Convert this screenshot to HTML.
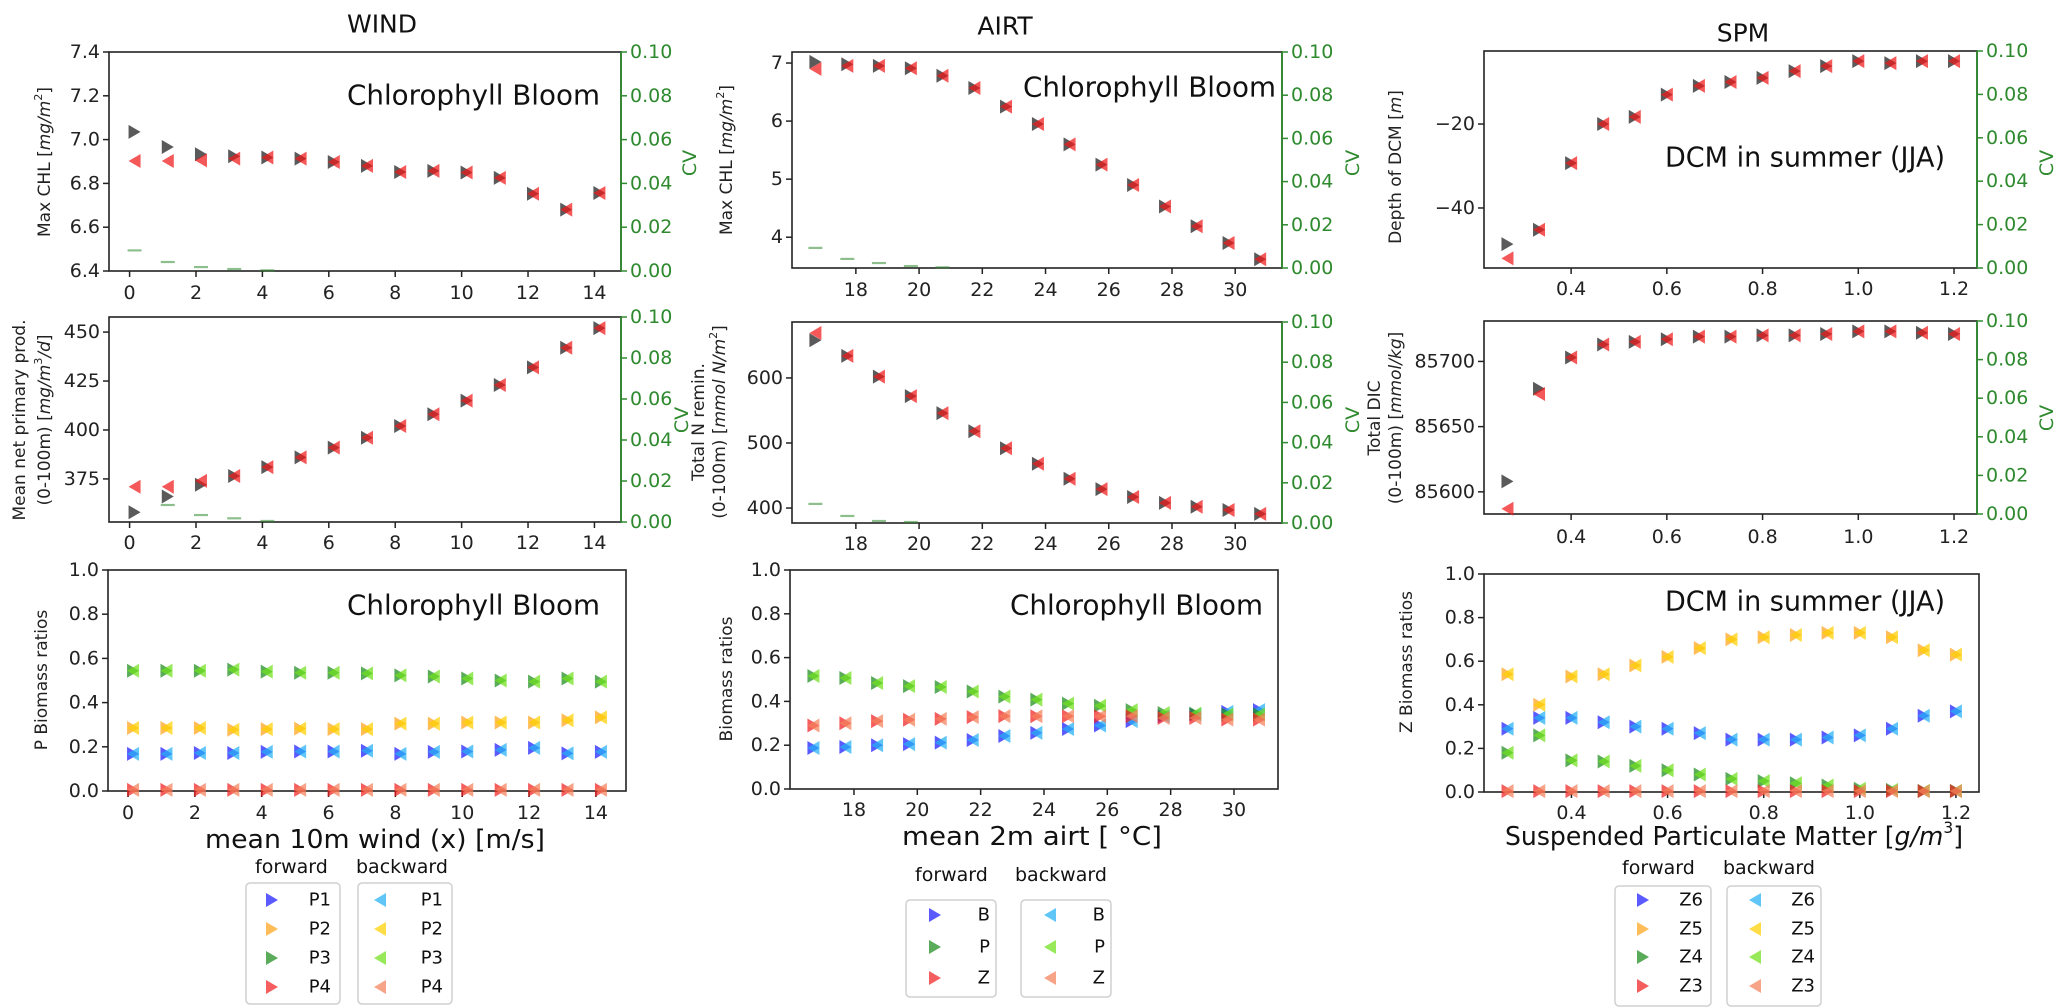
<!DOCTYPE html>
<html><head><meta charset="utf-8"><style>
html,body{margin:0;padding:0;background:#fff;}
svg{display:block;font-family:"DejaVu Sans","Liberation Sans",sans-serif;}
</style></head><body>
<svg id="fig" width="2067" height="1008" viewBox="0 0 2067 1008" xmlns="http://www.w3.org/2000/svg"></svg>
<script>
// ---------- DATA ----------
const windX = [0.15,1.15,2.15,3.15,4.15,5.15,6.15,7.15,8.15,9.15,10.15,11.15,12.15,13.15,14.15];
const windChlF = [7.035,6.966,6.933,6.924,6.918,6.913,6.898,6.88,6.852,6.857,6.85,6.825,6.753,6.68,6.756];
const windChlB = [6.902,6.902,6.905,6.913,6.918,6.913,6.898,6.88,6.852,6.857,6.85,6.825,6.753,6.68,6.756];
const windChlCV = [0.0094,0.0041,0.0018,0.0009,0.0003,0,0,0,0,0,0,0,0,0,0];
const windNppF = [358,366,372,376.5,381,386,391,396,402,408,415,423,432,442,452];
const windNppB = [371,371,374,376.5,381,386,391,396,402,408,415,423,432,442,452];
const windNppCV = [0,0.0083,0.0034,0.0018,0.0005,0,0,0,0,0,0,0,0,0,0];
const windP1 = [0.168,0.168,0.172,0.172,0.177,0.179,0.179,0.182,0.168,0.177,0.179,0.186,0.195,0.17,0.177];
const windP2 = [0.285,0.285,0.285,0.277,0.28,0.282,0.28,0.28,0.305,0.305,0.31,0.31,0.31,0.32,0.333];
const windP3 = [0.544,0.544,0.544,0.549,0.54,0.535,0.535,0.532,0.523,0.518,0.509,0.5,0.495,0.509,0.495];
const windP4 = [0.005,0.005,0.005,0.005,0.005,0.005,0.005,0.005,0.005,0.005,0.005,0.005,0.005,0.005,0.005];

const airtX = [16.72,17.73,18.73,19.74,20.74,21.75,22.75,23.76,24.76,25.77,26.77,27.78,28.78,29.79,30.79];
const airtChlF = [7.02,6.98,6.95,6.91,6.78,6.57,6.25,5.95,5.6,5.25,4.9,4.53,4.19,3.9,3.62];
const airtChlB = [6.9,6.95,6.95,6.91,6.78,6.57,6.25,5.95,5.6,5.25,4.9,4.53,4.19,3.9,3.62];
const airtChlCV = [0.0093,0.0042,0.0023,0.0009,0.0003,0,0,0,0,0,0,0,0,0,0];
const airtNF = [658,634,602,572,546,518,492,468,445,429,417,408,402,397,391];
const airtNB = [669,634,602,572,546,518,492,468,445,429,417,408,402,397,391];
const airtNCV = [0.0095,0.0035,0.001,0.0005,0,0,0,0,0,0,0,0,0,0,0];
const airtB = [0.187,0.192,0.2,0.205,0.212,0.224,0.242,0.256,0.274,0.29,0.31,0.332,0.34,0.352,0.36];
const airtP = [0.516,0.507,0.484,0.47,0.466,0.445,0.422,0.408,0.39,0.38,0.36,0.347,0.344,0.34,0.34];
const airtZ = [0.29,0.3,0.31,0.316,0.32,0.328,0.333,0.332,0.332,0.332,0.332,0.324,0.324,0.317,0.317];

const spmX = [0.267,0.333,0.4,0.467,0.533,0.6,0.667,0.733,0.8,0.867,0.933,1.0,1.067,1.133,1.2];
const spmDepthF = [-48.6,-45.2,-29.3,-20,-18.3,-13,-10.9,-10,-9,-7.4,-6.2,-5,-5.5,-5,-5];
const spmDepthB = [-52,-45.2,-29.3,-20,-18.3,-13,-10.9,-10,-9,-7.4,-6.2,-5,-5.5,-5,-5];
const spmDicF = [85608,85679,85703,85713,85715,85717,85719,85719,85720,85720,85721,85723,85723,85722,85721];
const spmDicB = [85587,85675,85703,85713,85715,85717,85719,85719,85720,85720,85721,85723,85723,85722,85721];
const spmZ6 = [0.29,0.34,0.34,0.32,0.3,0.29,0.27,0.24,0.24,0.24,0.25,0.26,0.29,0.35,0.37];
const spmZ5 = [0.54,0.4,0.53,0.54,0.58,0.62,0.66,0.7,0.71,0.72,0.73,0.73,0.71,0.65,0.63];
const spmZ4 = [0.18,0.26,0.145,0.14,0.12,0.1,0.08,0.06,0.05,0.04,0.03,0.015,0.01,0.005,0.005];
const spmZ3 = [0.004,0.004,0.004,0.004,0.004,0.004,0.004,0.004,0.004,0.004,0.004,0.004,0.004,0.004,0.004];

const windTicks = [0,2,4,6,8,10,12,14];
const airtTicks = [18,20,22,24,26,28,30];
const spmTicks = [0.4,0.6,0.8,1.0,1.2];
const spmTickLabels = ["0.4","0.6","0.8","1.0","1.2"];
const cvTicks = [0,0.02,0.04,0.06,0.08,0.10];
const ratioTicks = [0,0.2,0.4,0.6,0.8,1.0];

// ---------- HELPERS ----------
const NS = "http://www.w3.org/2000/svg";
const svg = document.getElementById("fig");
function el(tag, attrs, parent){
  const e = document.createElementNS(NS, tag);
  for (const k in attrs) e.setAttribute(k, attrs[k]);
  (parent||svg).appendChild(e);
  return e;
}
function txt(s, attrs, parent){ const t = el("text", attrs, parent); t.textContent = s; return t; }
function lin(d0,d1,p0,p1){ return v => p0 + (v-d0)/(d1-d0)*(p1-p0); }
const GREEN = "#2f8a2f";

function panel(name, box, xd, yd, xticks, xlabels, yticks, ylabels, xlabY, cv){
  const g = el("g", {});
  
  
  const sx = lin(xd[0], xd[1], box.l, box.r);
  const sy = lin(yd[0], yd[1], box.b, box.t);
  const frame = el("rect", {x:box.l, y:box.t, width:box.r-box.l, height:box.b-box.t, fill:"none", stroke:"#222", "stroke-width":1.6}, g);
  
  
  xticks.forEach((v,i)=>{
    const x = sx(v);
    el("line",{x1:x,x2:x,y1:box.b,y2:box.b+6,stroke:"#222","stroke-width":1.5},g);
    const t = txt(xlabels[i],{x:x,y:xlabY,"text-anchor":"middle","dominant-baseline":"central","font-size":19,fill:"#222"},g);
    
    
  });
  yticks.forEach((v,i)=>{
    const y = sy(v);
    el("line",{x1:box.l-6,x2:box.l,y1:y,y2:y,stroke:"#222","stroke-width":1.5},g);
    const t = txt(ylabels[i],{x:box.l-9,y:y,"text-anchor":"end","dominant-baseline":"central","font-size":19,fill:"#222"},g);
    
    
  });
  let scv = null;
  if (cv){
    scv = lin(0, 0.1, box.b, box.t);
    el("line",{x1:box.r,x2:box.r,y1:box.t,y2:box.b,stroke:GREEN,"stroke-width":1.8},g);
    cvTicks.forEach(v=>{
      const y = scv(v);
      el("line",{x1:box.r,x2:box.r+6,y1:y,y2:y,stroke:GREEN,"stroke-width":1.5},g);
      const t = txt(v.toFixed(2),{x:box.r+9,y:y,"dominant-baseline":"central","font-size":19,fill:GREEN},g);
      
      
    });
  }
  return {g, sx, sy, scv, box};
}
function tri(p, x, y, dir, color, name){
  const w = 6, h = 7;
  const pts = dir>0 ? [[x-w,y-h],[x+w,y],[x-w,y+h]] : [[x+w,y-h],[x-w,y],[x+w,y+h]];
  const t = el("polygon",{points:pts.map(q=>q.join(",")).join(" "),fill:color,"fill-opacity":0.72},p.g || p);
  
  
  return t;
}
function series(p, xs, ys, dir, color, name){
  xs.forEach((xv,i)=>{ tri(p, p.sx(xv), p.sy(ys[i]), dir, color, name); });
}
function cvSeries(p, xs, cvs){
  xs.forEach((xv,i)=>{
    if (cvs[i] <= 0) return;
    const x = p.sx(xv), y = p.scv(cvs[i]);
    const d = el("line",{x1:x-7,x2:x+7,y1:y,y2:y,stroke:GREEN,"stroke-opacity":0.55,"stroke-width":2.2},p.g);
    
    
  });
}
function vlabel(parts, x, y, size, color, name){
  const t = el("text",{x:0,y:0,transform:`translate(${x},${y}) rotate(-90)`,"text-anchor":"middle","dominant-baseline":"central","font-size":size,fill:color||"#222"});
  
  
  parts.forEach(pt=>{
    const s = el("tspan", pt.a || {}, t); s.textContent = pt.s;
  });
  return t;
}
function label(s, attrs, name){
  const t = txt(s, attrs);
  
  
  return t;
}
const IT = {"font-style":"italic"};
const SUP = {"baseline-shift":"super","font-size":11};

const BLACK = "#1a1a1a", RED = "#f01818";
const FWD = {blue:"#1a1aff", orange:"#ffa31a", green:"#1a8a1a", red:"#f02020"};
const BWD = {blue:"#22b0f5", orange:"#ffd000", green:"#6fe01a", red:"#f4805a"};

// ---------- TITLES ----------
label("WIND",{x:382,y:24,"text-anchor":"middle","dominant-baseline":"central","font-size":25,fill:"#111"},"column-title-wind");
label("AIRT",{x:1005,y:26,"text-anchor":"middle","dominant-baseline":"central","font-size":25,fill:"#111"},"column-title-airt");
label("SPM",{x:1743,y:33,"text-anchor":"middle","dominant-baseline":"central","font-size":25,fill:"#111"},"column-title-spm");

// ---------- COLUMN 1: WIND ----------
const w1 = panel("wind-max-chl-panel",{l:109,r:621,t:52,b:271},[-0.62,14.8],[6.4,7.4],windTicks,windTicks.map(String),[6.4,6.6,6.8,7.0,7.2,7.4],["6.4","6.6","6.8","7.0","7.2","7.4"],293,true);
cvSeries(w1, windX, windChlCV);
series(w1, windX, windChlF, 1, BLACK, "forward-marker");
series(w1, windX, windChlB, -1, RED, "backward-marker");
const w2 = panel("wind-npp-panel",{l:109,r:621,t:317,b:522},[-0.62,14.8],[353,457.7],windTicks,windTicks.map(String),[375,400,425,450],["375","400","425","450"],543,true);
cvSeries(w2, windX, windNppCV);
series(w2, windX, windNppF, 1, BLACK, "forward-marker");
series(w2, windX, windNppB, -1, RED, "backward-marker");
const w3 = panel("wind-biomass-panel",{l:108,r:626,t:570,b:791},[-0.6,14.9],[0,1],windTicks,windTicks.map(String),ratioTicks,["0.0","0.2","0.4","0.6","0.8","1.0"],813,false);
[[windP1,"blue"],[windP2,"orange"],[windP3,"green"],[windP4,"red"]].forEach(([arr,c])=>{
  series(w3, windX, arr, 1, FWD[c], "forward-marker");
  series(w3, windX, arr, -1, BWD[c], "backward-marker");
});
label("Chlorophyll Bloom",{x:347,y:95,"dominant-baseline":"central","font-size":28,fill:"#111",textLength:253,lengthAdjust:"spacingAndGlyphs"},"annotation-chlorophyll-bloom");
label("Chlorophyll Bloom",{x:347,y:605,"dominant-baseline":"central","font-size":28,fill:"#111",textLength:253,lengthAdjust:"spacingAndGlyphs"},"annotation-chlorophyll-bloom");
vlabel([{s:"Max CHL ["},{s:"mg/m",a:IT},{s:"2",a:SUP},{s:"]"}],45,162,17,"#222","y-axis-title");
vlabel([{s:"Mean net primary prod."}],20,420,17,"#222","y-axis-title");
vlabel([{s:"(0-100m) ["},{s:"mg/m",a:IT},{s:"3",a:SUP},{s:"/d",a:IT},{s:"]"}],45,420,17,"#222","y-axis-title");
vlabel([{s:"P Biomass ratios"}],42,680,17,"#222","y-axis-title");
vlabel([{s:"CV"}],690,163,19,GREEN,"cv-axis-title");
label("mean 10m wind (x) [m/s]",{x:205,y:840,"dominant-baseline":"central","font-size":26,fill:"#111",textLength:340,lengthAdjust:"spacingAndGlyphs"},"x-axis-title");

// ---------- COLUMN 2: AIRT ----------
const a1 = panel("airt-max-chl-panel",{l:792,r:1282,t:52,b:268},[15.98,31.48],[3.47,7.19],airtTicks,airtTicks.map(String),[4,5,6,7],["4","5","6","7"],290,true);
cvSeries(a1, airtX, airtChlCV);
series(a1, airtX, airtChlF, 1, BLACK, "forward-marker");
series(a1, airtX, airtChlB, -1, RED, "backward-marker");
const a2 = panel("airt-n-remin-panel",{l:792,r:1282,t:322,b:523},[15.98,31.48],[377,686],airtTicks,airtTicks.map(String),[400,500,600],["400","500","600"],544,true);
cvSeries(a2, airtX, airtNCV);
series(a2, airtX, airtNF, 1, BLACK, "forward-marker");
series(a2, airtX, airtNB, -1, RED, "backward-marker");
const a3 = panel("airt-biomass-panel",{l:790,r:1278,t:570,b:789},[15.98,31.39],[0,1],airtTicks,airtTicks.map(String),ratioTicks,["0.0","0.2","0.4","0.6","0.8","1.0"],810,false);
[[airtB,"blue"],[airtP,"green"],[airtZ,"red"]].forEach(([arr,c])=>{
  series(a3, airtX, arr, 1, FWD[c], "forward-marker");
  series(a3, airtX, arr, -1, BWD[c], "backward-marker");
});
label("Chlorophyll Bloom",{x:1023,y:87,"dominant-baseline":"central","font-size":28,fill:"#111",textLength:253,lengthAdjust:"spacingAndGlyphs"},"annotation-chlorophyll-bloom");
label("Chlorophyll Bloom",{x:1010,y:605,"dominant-baseline":"central","font-size":28,fill:"#111",textLength:253,lengthAdjust:"spacingAndGlyphs"},"annotation-chlorophyll-bloom");
vlabel([{s:"Max CHL ["},{s:"mg/m",a:IT},{s:"2",a:SUP},{s:"]"}],727,160,17,"#222","y-axis-title");
vlabel([{s:"Total N remin."}],699,422,17,"#222","y-axis-title");
vlabel([{s:"(0-100m) ["},{s:"mmol N/m",a:IT},{s:"2",a:SUP},{s:"]"}],720,422,17,"#222","y-axis-title");
vlabel([{s:"Biomass ratios"}],727,679,17,"#222","y-axis-title");
vlabel([{s:"CV"}],1353,163,19,GREEN,"cv-axis-title");
vlabel([{s:"CV"}],682,420,19,GREEN,"cv-axis-title");
label("mean 2m airt [ °C]",{x:902,y:837,"dominant-baseline":"central","font-size":26,fill:"#111",textLength:260,lengthAdjust:"spacingAndGlyphs"},"x-axis-title");

// ---------- COLUMN 3: SPM ----------
const s1 = panel("spm-dcm-depth-panel",{l:1484,r:1977,t:51,b:268},[0.218,1.248],[-54.3,-2.6],spmTicks,spmTickLabels,[-40,-20],["−40","−20"],289,true);
series(s1, spmX, spmDepthF, 1, BLACK, "forward-marker");
series(s1, spmX, spmDepthB, -1, RED, "backward-marker");
const s2 = panel("spm-dic-panel",{l:1484,r:1977,t:321,b:514},[0.218,1.248],[85583,85731],spmTicks,spmTickLabels,[85600,85650,85700],["85600","85650","85700"],537,true);
series(s2, spmX, spmDicF, 1, BLACK, "forward-marker");
series(s2, spmX, spmDicB, -1, RED, "backward-marker");
const s3 = panel("spm-biomass-panel",{l:1484,r:1979,t:574,b:792},[0.218,1.248],[0,1],spmTicks,spmTickLabels,ratioTicks,["0.0","0.2","0.4","0.6","0.8","1.0"],813,false);
[[spmZ6,"blue"],[spmZ5,"orange"],[spmZ4,"green"],[spmZ3,"red"]].forEach(([arr,c])=>{
  series(s3, spmX, arr, 1, FWD[c], "forward-marker");
  series(s3, spmX, arr, -1, BWD[c], "backward-marker");
});
label("DCM in summer (JJA)",{x:1665,y:157,"dominant-baseline":"central","font-size":28,fill:"#111",textLength:280,lengthAdjust:"spacingAndGlyphs"},"annotation-dcm-summer");
label("DCM in summer (JJA)",{x:1665,y:601,"dominant-baseline":"central","font-size":28,fill:"#111",textLength:280,lengthAdjust:"spacingAndGlyphs"},"annotation-dcm-summer");
vlabel([{s:"Depth of DCM ["},{s:"m",a:IT},{s:"]"}],1396,167,17,"#222","y-axis-title");
vlabel([{s:"Total DIC"}],1375,418,17,"#222","y-axis-title");
vlabel([{s:"(0-100m) ["},{s:"mmol/kg",a:IT},{s:"]"}],1396,418,17,"#222","y-axis-title");
vlabel([{s:"Z Biomass ratios"}],1407,662,17,"#222","y-axis-title");
vlabel([{s:"CV"}],1353,420,19,GREEN,"cv-axis-title");
vlabel([{s:"CV"}],2047,163,19,GREEN,"cv-axis-title");
vlabel([{s:"CV"}],2047,418,19,GREEN,"cv-axis-title");
(function(){
  const t = el("text",{x:1505,y:837,"dominant-baseline":"central","font-size":26,fill:"#111",textLength:458,lengthAdjust:"spacingAndGlyphs"});
  
  
  const a = el("tspan",{},t); a.textContent = "Suspended Particulate Matter [";
  const b = el("tspan",IT,t); b.textContent = "g/m";
  const c = el("tspan",{"baseline-shift":"super","font-size":16},t); c.textContent = "3";
  const d = el("tspan",{},t); d.textContent = "]";
})();

// ---------- LEGENDS ----------
function legend(name, hdr, boxF, boxB, rows, mxF, mxB, lxF, lxB, names, colors){
  const g = el("g",{});
  
  
  const h1 = txt("forward",{x:hdr.f,y:hdr.y,"dominant-baseline":"central","font-size":19,fill:"#111"},g);
  
  
  const h2 = txt("backward",{x:hdr.b,y:hdr.y,"dominant-baseline":"central","font-size":19,fill:"#111"},g);
  
  
  [boxF, boxB].forEach(bx=>{
    const r = el("rect",{x:bx.l,y:bx.t,width:bx.r-bx.l,height:bx.b-bx.t,rx:4,fill:"#fff",stroke:"#d0d0d0","stroke-width":1.5},g);
    
    
  });
  rows.forEach((y,i)=>{
    tri(g, mxF, y, 1, FWD[colors[i]], "legend-marker");
    tri(g, mxB, y, -1, BWD[colors[i]], "legend-marker");
    const a = txt(names[i],{x:lxF,y:y,"text-anchor":"end","dominant-baseline":"central","font-size":18,fill:"#111"},g);
    
    
    const b = txt(names[i],{x:lxB,y:y,"text-anchor":"end","dominant-baseline":"central","font-size":18,fill:"#111"},g);
    
    
  });
}
legend("wind-legend",{f:255,b:356,y:867},{l:246,r:340,t:883,b:1004},{l:358,r:452,t:883,b:1004},[900,929,958,987],272,380,331,443,["P1","P2","P3","P4"],["blue","orange","green","red"]);
legend("airt-legend",{f:915,b:1015,y:875},{l:906,r:996,t:900,b:997},{l:1021,r:1111,t:900,b:997},[915,947,978],935,1050,990,1105,["B","P","Z"],["blue","green","red"]);
legend("spm-legend",{f:1622,b:1723,y:868},{l:1615,r:1711,t:886,b:1006},{l:1727,r:1821,t:886,b:1006},[900,929,957,986],1643,1755,1703,1815,["Z6","Z5","Z4","Z3"],["blue","orange","green","red"]);
</script>
</body></html>
